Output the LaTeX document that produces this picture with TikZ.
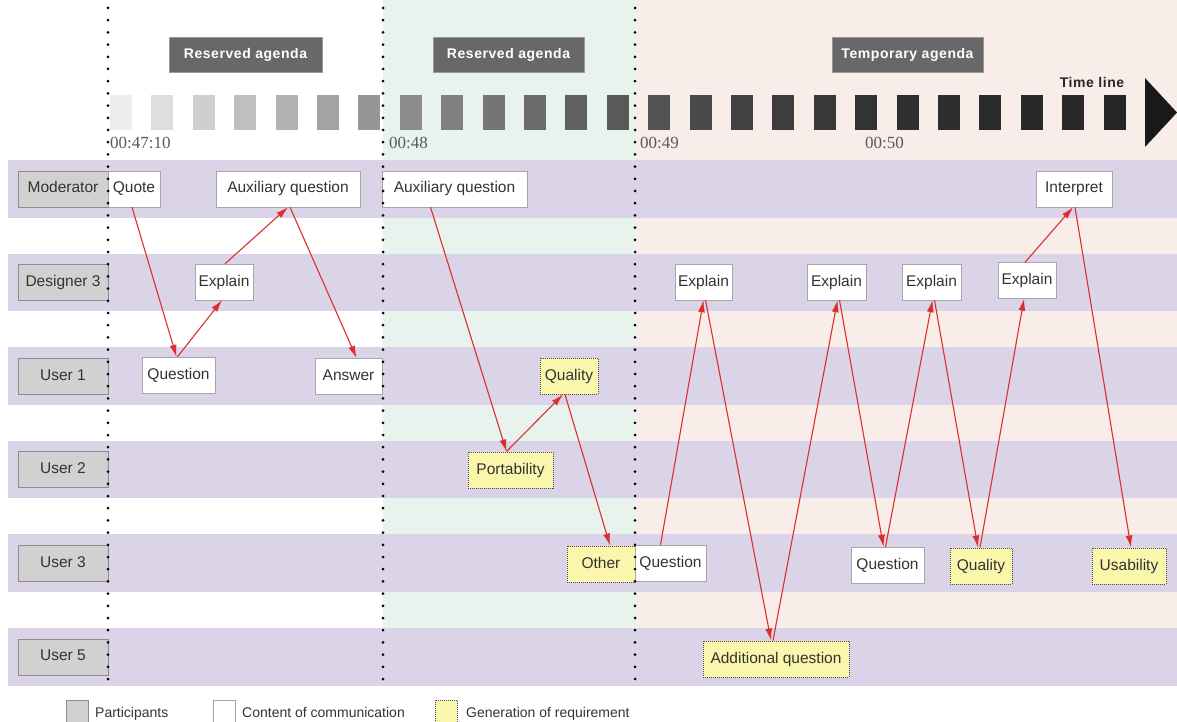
\documentclass[tikz,border=0pt]{standalone}
\usepackage{fontspec}
\setmainfont{Liberation Sans}
\newfontfamily\stampfont{Liberation Serif}
\usepackage{tikz}
\usetikzlibrary{arrows.meta,positioning}

\definecolor{lanecol}{RGB}{219,212,232}
\definecolor{greenbg}{RGB}{233,243,238}
\definecolor{pinkbg}{RGB}{248,237,232}
\definecolor{reqcol}{RGB}{250,246,172}
\definecolor{flowcol}{RGB}{218,48,44}
\definecolor{agendacol}{RGB}{104,104,104}

\begin{document}
\begin{tikzpicture}[x=1pt,y=-1pt,
		participant/.style={draw=black!45,fill=black!18,minimum height=36pt,minimum width=90pt,inner sep=0pt,text height=11pt,text depth=3pt,font=\fontsize{15.5}{18}\selectfont,text=black!80},
		content/.style={draw=black!35,fill=white,minimum height=36pt,inner sep=0pt,text height=11pt,text depth=3pt,font=\fontsize{15.5}{18}\selectfont,text=black!80},
		requirement/.style={content,draw=black!70,densely dotted,line width=1pt,fill=reqcol},
		agenda/.style={draw=black!40,fill=agendacol,text=white,minimum height=35pt,inner sep=0pt,font=\fontsize{14}{17}\selectfont\bfseries\addfontfeature{LetterSpace=4}},
		legend/.style={anchor=base west,inner sep=0pt,font=\fontsize{14}{17}\selectfont,text=black!80},
		stamp/.style={anchor=base west,inner sep=0pt,font=\stampfont\fontsize{17}{20}\selectfont,text=black!65},
		divider/.style={line width=3pt,line cap=round,dash pattern=on 0pt off 12.2pt},
		flow/.style={draw=flowcol,line width=1.1pt,-{Latex[length=12pt,width=7pt]}}]
		\useasboundingbox (0,0) rectangle (1177,722);
		
		% agenda backgrounds and lanes
		\fill[greenbg] (383,0) rectangle (635,686);
		\fill[pinkbg] (635,0) rectangle (1177,686);
		\foreach \y in {160,253.6,347.2,440.8,534.4,628}
			\fill[lanecol] (8,\y) rectangle (1177,\y+57.5);
		
		% time line
		\foreach \i in {0,...,24}{
			\pgfmathtruncatemacro\shade{7+78*(1-(1-\i/24)^2)}
			\fill[black!\shade] (110+41.4*\i,95) rectangle ++(22,35);
		}
		\fill[black!90] (1145,78) -- (1177,112.5) -- (1145,147) -- cycle;
		\node[font=\fontsize{14}{17}\selectfont\bfseries\addfontfeature{LetterSpace=4},text=black!85] (tline) at (1092,82) {Time line};
		
		\node[agenda,minimum width=153pt] (agA) at (245.5,54.5) {Reserved agenda};
		\node[agenda,minimum width=151pt] (agB) at (508.5,54.5) {Reserved agenda};
		\node[agenda,minimum width=151pt] (agC) at (907.5,54.5) {Temporary agenda};
		
		\node[stamp] (tA) at (110,149) {00:47:10};
		\node[stamp] (tB) at (389,149) {00:48};
		\node[stamp] (tC) at (640,149) {00:49};
		\node[stamp] (tD) at (865,149) {00:50};
		
		% participants
		\node[participant] (mod) at (63,189) {Moderator};
		\node[participant] (des) at (63,282.4) {Designer 3};
		\node[participant] (usA) at (63,376) {User 1};
		\node[participant] (usB) at (63,469.6) {User 2};
		\node[participant] (usC) at (63,563.2) {User 3};
		\node[participant] (usE) at (63,656.8) {User 5};
		
		% content of communication
		\node[content,minimum width=52pt] (quote) at (134,189) {Quote};
		\node[content,minimum width=144pt] (auxA) at (288,189) {Auxiliary question};
		\node[content,minimum width=145pt] (auxB) at (454.5,189) {Auxiliary question};
		\node[content,minimum width=76pt] (interp) at (1074,189) {Interpret};
		
		\node[content,minimum width=58pt] (expA) at (224,282) {Explain};
		\node[content,minimum width=57pt] (expB) at (703.5,282) {Explain};
		\node[content,minimum width=59pt] (expC) at (836.5,282) {Explain};
		\node[content,minimum width=59pt] (expD) at (931.5,282) {Explain};
		\node[content,minimum width=58pt] (expE) at (1027,280.5) {Explain};
		
		\node[content,minimum width=73pt] (quesA) at (178.5,375) {Question};
		\node[content,minimum width=67pt] (answer) at (348.5,376) {Answer};
		\node[requirement,minimum width=58pt] (qualA) at (569,376) {Quality};
		
		\node[requirement,minimum width=85pt] (port) at (510.5,470) {Portability};
		
		\node[requirement,minimum width=68pt] (other) at (601,564) {Other};
		\node[content,minimum width=71pt] (quesB) at (670.5,563) {Question};
		\node[content,minimum width=73pt] (quesC) at (887.5,565) {Question};
		\node[requirement,minimum width=62pt] (qualB) at (981,566) {Quality};
		\node[requirement,minimum width=74pt] (usab) at (1129,566) {Usability};
		
		\node[requirement,minimum width=146pt] (addq) at (776,659) {Additional question};
		
		% dividers
		\draw[divider] (108,8) -- (108,684);
		\draw[divider] (383,8) -- (383,684);
		\draw[divider] (635,8) -- (635,684);
		
		% flow of the discussion
		\draw[flow] ([xshift=-2pt]quote.south) -- ([xshift=-2pt]quesA.north);
		\draw[flow] ([xshift=-1pt]quesA.north) -- ([xshift=-2pt]expA.south);
		\draw[flow] ([xshift=1pt]expA.north) -- ([xshift=0pt]auxA.south);
		\draw[flow] ([xshift=2pt]auxA.south) -- ([xshift=8pt]answer.north);
		
		\draw[flow] ([xshift=-24pt]auxB.south) -- ([xshift=-4pt]port.north);
		\draw[flow] ([xshift=-4pt]port.north) -- ([xshift=-6pt]qualA.south);
		\draw[flow] ([xshift=-4pt]qualA.south) -- ([xshift=9pt]other.north);
		
		\draw[flow] ([xshift=-10pt]quesB.north) -- ([xshift=0pt]expB.south);
		\draw[flow] ([xshift=2pt]expB.south) -- ([xshift=-5pt]addq.north);
		\draw[flow] ([xshift=-3pt]addq.north) -- ([xshift=1pt]expC.south);
		\draw[flow] ([xshift=3pt]expC.south) -- ([xshift=-4pt]quesC.north);
		\draw[flow] ([xshift=-2pt]quesC.north) -- ([xshift=1pt]expD.south);
		\draw[flow] ([xshift=3pt]expD.south) -- ([xshift=-3pt]qualB.north);
		\draw[flow] ([xshift=-1pt]qualB.north) -- ([xshift=-3pt]expE.south);
		\draw[flow] ([xshift=-2pt]expE.north) -- ([xshift=-1pt]interp.south);
		\draw[flow] ([xshift=1pt]interp.south) -- ([xshift=2pt]usab.north);
		
		% legend
		\node[participant,minimum width=22pt,minimum height=22pt] (lgA) at (77,711) {};
		\node[legend] (lgAt) at (95,717) {Participants};
		\node[content,minimum width=22pt,minimum height=22pt] (lgB) at (224,711) {};
		\node[legend] (lgBt) at (242,717) {Content of communication};
		\node[requirement,minimum width=22pt,minimum height=22pt] (lgC) at (446,711) {};
		\node[legend] (lgCt) at (466,717) {Generation of requirement};
\end{tikzpicture}
\end{document}
